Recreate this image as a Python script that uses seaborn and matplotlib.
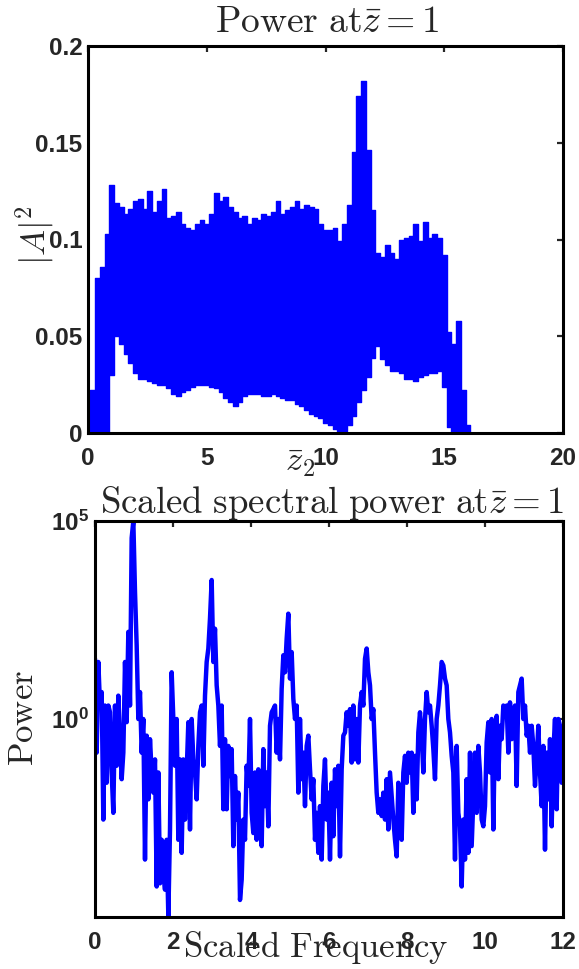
import numpy as np
import pandas as pd
import matplotlib
matplotlib.use("Agg")
import matplotlib.pyplot as plt
import seaborn as sns

# =========================================================
# DATA
# =========================================================

# top panel: envelope of the fast oscillation of |A|^2 along z2
z2_grid = np.round(np.arange(0, 17.41, 0.2), 2)

upper_env = [
    0.000, 0.022, 0.080, 0.086, 0.103, 0.128, 0.119, 0.117, 0.113, 0.116,
    0.120, 0.121, 0.116, 0.125, 0.114, 0.120, 0.126, 0.111, 0.112, 0.114,
    0.108, 0.106, 0.105, 0.108, 0.110, 0.108, 0.113, 0.124, 0.120, 0.122,
    0.117, 0.114, 0.111, 0.112, 0.108, 0.111, 0.110, 0.113, 0.112, 0.114,
    0.120, 0.113, 0.115, 0.117, 0.120, 0.116, 0.118, 0.117, 0.116, 0.108,
    0.105, 0.105, 0.106, 0.099, 0.108, 0.118, 0.145, 0.174, 0.182, 0.146,
    0.115, 0.093, 0.091, 0.097, 0.093, 0.090, 0.100, 0.101, 0.102, 0.108,
    0.099, 0.109, 0.101, 0.103, 0.101, 0.092, 0.052, 0.046, 0.058, 0.022,
    0.004, 0.000, 0.000, 0.000, 0.000, 0.000, 0.000, 0.000
]

lower_env = [
    0.000, 0.000, 0.000, 0.000, 0.000, 0.030, 0.050, 0.046, 0.041, 0.036,
    0.031, 0.028, 0.028, 0.027, 0.026, 0.025, 0.025, 0.023, 0.020, 0.019,
    0.021, 0.022, 0.024, 0.025, 0.025, 0.025, 0.024, 0.023, 0.021, 0.018,
    0.016, 0.014, 0.016, 0.019, 0.020, 0.020, 0.020, 0.019, 0.019, 0.020,
    0.019, 0.018, 0.017, 0.017, 0.015, 0.014, 0.012, 0.010, 0.009, 0.008,
    0.005, 0.004, 0.002, 0.001, 0.001, 0.004, 0.009, 0.016, 0.022, 0.029,
    0.039, 0.045, 0.038, 0.035, 0.032, 0.032, 0.031, 0.028, 0.028, 0.027,
    0.029, 0.030, 0.031, 0.031, 0.032, 0.024, 0.003, 0.000, 0.000, 0.000,
    0.000, 0.000, 0.000, 0.000, 0.000, 0.000, 0.000, 0.000
]

# bottom panel: log10 of spectral power, evenly spaced frequency bins
freq_step = 5 / 117
log_power = [
    1.52, -0.85, 1.44, 0.34, 0.68, -2.54, 0.34, -1.61, 0.34, 0.17,
    -1.35, -2.37, 0.34, -1.18, 0.59, -0.51, -1.52, -0.85, 1.44, -0.08,
    2.20, 0.34, 4.57, 5.00, 3.21, 1.86, 0.00, 0.68, -0.85, 0.00,
    -3.55, -0.42, -2.03, -0.51, -1.35, -1.86, -1.02, -4.23, -1.35, -4.15,
    -3.05, -3.89, -4.31, -3.05, -4.98, -2.79, 1.18, 0.00, -1.18, 0.00,
    -3.05, -1.02, -3.38, -1.02, -2.54, -1.35, -0.08, -2.79, 0.00, -1.02,
    -1.35, -2.03, -0.68, 0.17, 0.34, -1.18, 0.59, 1.44, 1.78, 2.54,
    3.51, 1.44, 2.28, 0.85, 0.34, -0.68, 0.34, -2.28, -0.51, -2.28,
    -0.68, -1.44, -0.76, -3.21, -1.44, -2.54, -1.86, -4.57, -4.06, -2.54,
    -3.05, -1.18, -1.69, 0.00, -2.37, -2.88, -1.35, -3.05, -1.27, -2.71,
    -3.21, -0.76, -2.20, -1.35, -2.71, -0.17, 0.17, 0.25, 0.34, -0.85,
    0.00, -1.02, 0.76, 1.61, 1.18, 2.03, 2.66, 1.02, 1.69, 0.51,
    0.00, 0.34, -1.86, 0.00, -1.52, -0.85, -2.20, -0.68, -0.42, -1.27,
    -2.03, -1.52, -3.05, -2.37, -3.38, -2.20,
    -3.55, -1.69, -1.02, -2.54, -1.86, -3.55, -1.61, -2.96, -1.27, -2.20,
    -1.18, -3.47, -1.27, -0.42, -0.34, 0.17, -0.17, 0.25, -1.10, 0.34,
    -1.02, 0.00, -1.10, 0.34, 0.68, 0.34, 1.52, 1.78, 1.18, 0.85,
    0.00, 0.25, -0.85, -1.86, -2.37, -2.03, -2.45, -1.86, -2.54, -1.52,
    -2.79, -1.35, -1.95, -2.54, -3.05, -3.47, -1.61, -2.37, -3.05, -1.35,
    -0.93, -1.61, -0.85, -1.35, -0.85, -2.37, -0.93, -2.03, -0.34, 0.17,
    -0.42, -1.35, 0.00, 0.68, 0.17, 0.34, -0.17, -0.76, -1.52, 0.00,
    0.34, 0.85, 1.44, 1.35, 1.02, 0.85, 0.00, -0.34, -0.93, -1.35,
    -3.55, -0.68, -2.37, -2.71, -4.23, -2.54, -3.55, -1.52, -3.38, -0.85,
    -3.21, -2.03, -0.85, -2.37, -0.68, -1.35, -2.54, -2.71, -2.20, -0.59,
    -0.08, -1.35, 0.00, -2.79, -0.17, 0.08, -1.52, -0.17, -0.51, 0.34,
    0.17, 0.34, -0.85, 0.42, -0.51, 0.00, 0.34, -1.69, 0.68, 0.85,
    1.02, 0.00, 0.34, -0.42, -0.17, -0.85, -0.17, -0.68, -1.69, -1.02,
    -0.17, -1.35, -2.20, -0.68, -3.30, -0.85, -2.03, -0.51, -2.71, -0.85,
    0.00, -2.28, 0.00, -0.17, -1.61
]

top_xticks = [0, 5, 10, 15, 20]
top_yticks = [0, 0.05, 0.1, 0.15, 0.2]
top_yticklabels = ["0", "0.05", "0.1", "0.15", "0.2"]
bot_xticks = [0, 2, 4, 6, 8, 10, 12]
bot_yticks = [1e0, 1e5]
bot_yticklabels = [r"$10^{0}$", r"$10^{5}$"]

top_df = pd.DataFrame({"z2": z2_grid, "upper": upper_env, "lower": lower_env})
spec_df = pd.DataFrame({
    "freq": np.arange(len(log_power)) * freq_step,
    "power": 10.0 ** np.array(log_power),
})

# =========================================================
# STYLE
# =========================================================

sns.set_style("white")
plt.rcParams.update({
    "font.family": ["Liberation Sans", "DejaVu Sans"],
    "font.weight": "bold",
    "mathtext.fontset": "custom",
    "mathtext.rm": "Liberation Sans:bold",
    "mathtext.bf": "Liberation Sans:bold",
    "mathtext.it": "Liberation Sans:bold:italic",
    "xtick.direction": "in",
    "ytick.direction": "in",
    "xtick.top": True,
    "ytick.right": True,
    "xtick.major.size": 4,
    "ytick.major.size": 4,
    "xtick.major.width": 1.6,
    "ytick.major.width": 1.6,
    "xtick.labelsize": 17.5,
    "ytick.labelsize": 17.5,
    "axes.linewidth": 2.2,
    "axes.edgecolor": "black",
})

BLUE = "#0000ff"
W, H = 579, 969
fig = plt.figure(figsize=(W / 100, H / 100), dpi=100)


def px_axes(x0, y0, x1, y1):
    return fig.add_axes([x0 / W, 1 - y1 / H, (x1 - x0) / W, (y1 - y0) / H])


label_kw = dict(fontsize=25, math_fontfamily="cm", fontweight="normal")

# =========================================================
# TOP PANEL
# =========================================================

ax1 = px_axes(88, 46, 563, 433)
ax1.fill_between(top_df["z2"], top_df["lower"], top_df["upper"],
                 step="mid", color=BLUE, lw=0)
sns.lineplot(data=top_df, x="z2", y="upper", ax=ax1, color=BLUE,
             lw=1.0, drawstyle="steps-mid", estimator=None)
sns.lineplot(data=top_df, x="z2", y="lower", ax=ax1, color=BLUE,
             lw=1.0, drawstyle="steps-mid", estimator=None)
ax1.set_xlim(0, 20)
ax1.set_ylim(0, 0.2)
ax1.set_xticks(top_xticks)
ax1.set_xticklabels([str(t) for t in top_xticks])
ax1.set_yticks(top_yticks)
ax1.set_yticklabels(top_yticklabels)
ax1.tick_params(axis="x", pad=10)
ax1.tick_params(axis="y", pad=4)
ax1.set_xlabel(r"$\bar{z}_2$", **label_kw)
ax1.xaxis.set_label_coords(0.446, -0.075)
ax1.xaxis.label.set_va("center")
ax1.set_ylabel(r"$|A|^2$", **label_kw)
ax1.yaxis.set_label_coords(-0.112, 0.512)
ax1.yaxis.label.set_va("center")
ax1.text(0.503, 1.036, r"$\mathrm{Power\ at}\bar{z}=1$", transform=ax1.transAxes,
         ha="center", va="baseline", fontsize=27, math_fontfamily="cm")

# =========================================================
# BOTTOM PANEL
# =========================================================

ax2 = px_axes(95, 521, 563, 917)
ax2.set_yscale("log")
sns.lineplot(data=spec_df, x="freq", y="power", ax=ax2, color=BLUE,
             lw=3.2, estimator=None)
ax2.set_xlim(0, 12)
ax2.set_ylim(1e-5, 1e5)
ax2.set_xticks(bot_xticks)
ax2.set_xticklabels([str(t) for t in bot_xticks])
ax2.set_yticks(bot_yticks)
ax2.set_yticklabels(bot_yticklabels)
ax2.minorticks_off()
ax2.tick_params(axis="x", pad=10)
ax2.tick_params(axis="y", pad=4)
ax2.set_xlabel(r"$\mathrm{Scaled\ Frequency}$", **label_kw)
ax2.xaxis.set_label_coords(0.472, -0.101)
ax2.xaxis.label.set_va("baseline")
ax2.set_ylabel(r"$\mathrm{Power}$", **label_kw)
ax2.yaxis.set_label_coords(-0.152, 0.503)
ax2.yaxis.label.set_va("center")
ax2.text(0.506, 1.020, r"$\mathrm{Scaled\ spectral\ power\ at}\bar{z}=1$",
         transform=ax2.transAxes, ha="center", va="baseline",
         fontsize=26.5, math_fontfamily="cm")

for ax in (ax1, ax2):
    for s in ax.spines.values():
        s.set_visible(True)
        s.set_zorder(5)

fig.savefig("out.png", dpi=100)
